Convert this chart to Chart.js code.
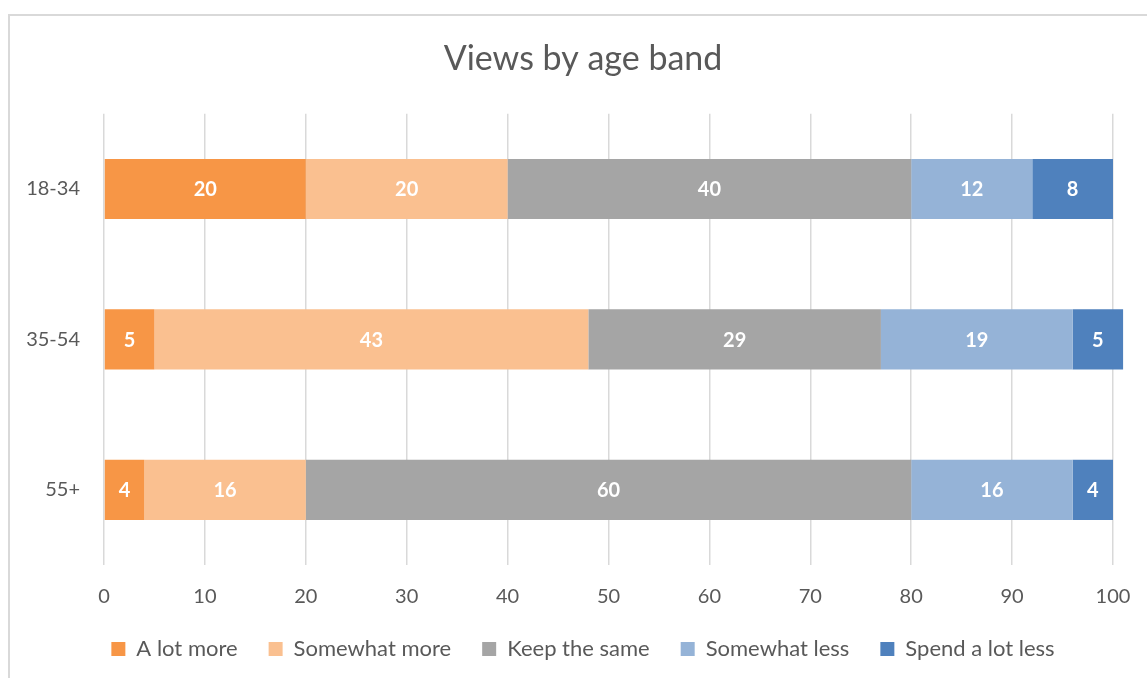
<!DOCTYPE html>
<html>
<head>
<meta charset="utf-8">
<script src="https://cdn.jsdelivr.net/npm/chart.js@4"></script>
<style>
  html, body { margin: 0; padding: 0; background: #fff; }
  #wrap { position: relative; width: 1147px; height: 678px; overflow: hidden; }
  #frame { position: absolute; left: 8px; top: 14px; width: 1160px; height: 700px; border: 2px solid #d9d9d9; box-sizing: border-box; }
  #cv { position: absolute; left: 0; top: 0; }
</style>
</head>
<body>
<div id="wrap">
  <div id="frame"></div>
  <canvas id="cv" width="1147" height="678"></canvas>
</div>
<script>

const categories = ["18-34", "35-54", "55+"];
const seriesNames = ["A lot more", "Somewhat more", "Keep the same", "Somewhat less", "Spend a lot less"];
const aLotMore = [20, 5, 4];
const somewhatMore = [20, 43, 16];
const keepSame = [40, 29, 60];
const somewhatLess = [12, 19, 16];
const spendLess = [8, 5, 4];
const colors = ["#F79646", "#FAC090", "#A5A5A5", "#95B3D7", "#4F81BD"];

const font = "Lato, 'Open Sans', sans-serif";
const textColor = "#595959";

// white value labels in the middle of each segment
const segmentLabels = {
    id: "segmentLabels",
    afterDatasetsDraw(chart) {
        const ctx = chart.ctx;
        ctx.save();
        ctx.fillStyle = "#ffffff";
        ctx.font = "bold 20px " + font;
        ctx.textAlign = "center";
        ctx.textBaseline = "middle";
        chart.data.datasets.forEach((ds, i) => {
            const meta = chart.getDatasetMeta(i);
            meta.data.forEach((bar, j) => {
                const x = (bar.x + bar.base) / 2;
                ctx.fillText(String(ds.data[j]), x, bar.y + 1);
            });
        });
        ctx.restore();
    }
};

const allSeries = [aLotMore, somewhatMore, keepSame, somewhatLess, spendLess];

const datasets = allSeries.map((vals, i) => ({
    label: seriesNames[i],
    data: vals,
    backgroundColor: colors[i],
    borderWidth: 0,
    clip: false,
    barPercentage: 0.4,
    categoryPercentage: 1
}));

new Chart(document.getElementById("cv"), {
    type: "bar",
    data: { labels: categories, datasets: datasets },
    plugins: [segmentLabels],
    options: {
        indexAxis: "y",
        responsive: false,
        animation: false,
        layout: { padding: { left: 19, right: 0, top: 0, bottom: 8 } },
        scales: {
            x: {
                stacked: true,
                min: 0,
                max: 100,
                ticks: { stepSize: 10, color: textColor, font: { family: font, size: 20 }, padding: 20 },
                grid: { color: "#d9d9d9", lineWidth: 1.5, drawTicks: false },
                border: { display: false },
                afterFit(scale) {
                    scale.height = 42;
                    scale.paddingRight = 34; // plot ends at 100 where the original does
                }
            },
            y: {
                stacked: true,
                ticks: { color: textColor, font: { family: font, size: 20 }, padding: 24 },
                grid: { display: false, drawTicks: false },
                border: { display: false },
                afterFit(scale) { scale.width = 85; }
            }
        },
        plugins: {
            title: {
                display: true,
                text: "Views by age band",
                color: textColor,
                font: { family: font, size: 34, weight: "normal" },
                padding: { top: 39, bottom: 34 }
            },
            legend: {
                position: "bottom",
                labels: {
                    color: textColor,
                    font: { family: font, size: 22 },
                    boxWidth: 14,
                    boxHeight: 14,
                    padding: 31
                }
            },
            tooltip: { enabled: false }
        }
    }
});
</script>
</body>
</html>
